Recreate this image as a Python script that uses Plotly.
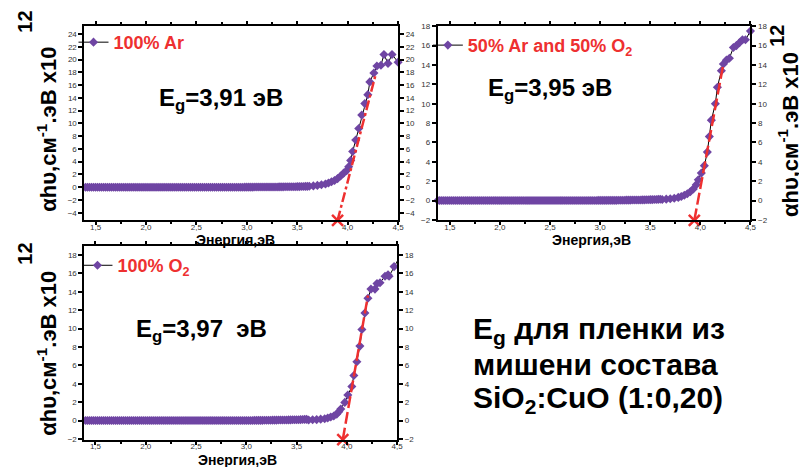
import plotly.graph_objects as go

W, H = 807, 467

# ---------------- data ----------------
energy_tail = [1.38, 1.40, 1.42, 1.44, 1.46, 1.48, 1.50, 1.52, 1.54, 1.56,
               1.58, 1.60, 1.62, 1.64, 1.66, 1.68, 1.70, 1.72, 1.74, 1.76,
               1.78, 1.80, 1.82, 1.84, 1.86, 1.88, 1.90, 1.92, 1.94, 1.96,
               1.98, 2.00, 2.02, 2.04, 2.06, 2.08, 2.10, 2.12, 2.14, 2.16,
               2.18, 2.20, 2.22, 2.24, 2.26, 2.28, 2.30, 2.32, 2.34, 2.36,
               2.38, 2.40, 2.42, 2.44, 2.46, 2.48, 2.50, 2.52, 2.54, 2.56,
               2.58, 2.60, 2.62, 2.64, 2.66, 2.68, 2.70, 2.72, 2.74, 2.76,
               2.78, 2.80, 2.82, 2.84, 2.86, 2.88, 2.90, 2.92, 2.94, 2.96,
               2.98, 3.00, 3.02, 3.04, 3.06, 3.08, 3.10, 3.12, 3.14, 3.16,
               3.18, 3.20, 3.22, 3.24, 3.26, 3.28, 3.30, 3.32, 3.34, 3.36,
               3.38, 3.40, 3.42, 3.44, 3.46, 3.48, 3.50, 3.52, 3.54, 3.56,
               3.58, 3.60]
alpha_tail = [0.00, 0.00, 0.00, 0.00, 0.00, 0.00, 0.00, 0.00, 0.00, 0.00,
              0.00, 0.00, 0.00, 0.00, 0.00, 0.00, 0.00, 0.00, 0.00, 0.00,
              0.00, 0.00, 0.00, 0.00, 0.00, 0.00, 0.00, 0.00, 0.00, 0.00,
              0.00, 0.00, 0.00, 0.00, 0.00, 0.00, 0.00, 0.00, 0.00, 0.00,
              0.00, 0.00, 0.00, 0.00, 0.00, 0.00, 0.00, 0.00, 0.00, 0.00,
              0.00, 0.00, 0.00, 0.00, 0.00, 0.00, 0.00, 0.00, 0.00, 0.00,
              0.00, 0.00, 0.00, 0.00, 0.00, 0.00, 0.00, 0.00, 0.00, 0.00,
              0.00, 0.00, 0.00, 0.00, 0.00, 0.00, 0.00, 0.00, 0.00, 0.00,
              0.01, 0.01, 0.01, 0.01, 0.01, 0.02, 0.02, 0.02, 0.02, 0.02,
              0.03, 0.03, 0.03, 0.03, 0.04, 0.04, 0.04, 0.05, 0.05, 0.05,
              0.06, 0.06, 0.07, 0.07, 0.08, 0.08, 0.09, 0.09, 0.10, 0.11,
              0.12, 0.13]

# 100% Ar
energy_ar = [3.62, 3.66, 3.70, 3.74, 3.78, 3.81, 3.84, 3.87, 3.90, 3.93,
             3.96, 3.99, 4.01, 4.03, 4.05, 4.08, 4.11, 4.14, 4.17, 4.20,
             4.22, 4.26, 4.29, 4.33, 4.36, 4.40, 4.44, 4.50]
alpha_ar = [0.15, 0.20, 0.28, 0.38, 0.50, 0.65, 0.85, 1.05, 1.35, 1.75,
            2.2, 2.6, 3.2, 4.2, 5.6, 7.4, 9.2, 11.3, 13.1, 14.5,
            16.5, 17.9, 19.0, 19.1, 20.8, 19.4, 20.8, 19.6]
fit_ar_x = [3.90, 4.28]
fit_ar_y = [-5.2, 17.8]

# 50% Ar and 50% O2
energy_mix = [3.62, 3.66, 3.70, 3.74, 3.78, 3.81, 3.84, 3.87, 3.90, 3.93,
              3.96, 3.98, 4.01, 4.04, 4.07, 4.09, 4.11, 4.15, 4.17, 4.21,
              4.23, 4.26, 4.29, 4.33, 4.36, 4.39, 4.42, 4.45, 4.50]
alpha_mix = [0.10, 0.14, 0.18, 0.24, 0.32, 0.42, 0.55, 0.70, 0.90, 1.2,
             1.64, 2.15, 2.83, 3.6, 5.0, 6.6, 8.3, 10.0, 11.7, 13.4,
             14.1, 14.5, 14.7, 15.8, 16.0, 16.3, 16.6, 16.6, 17.5]
fit_mix_x = [3.94, 4.23]
fit_mix_y = [-2.05, 14.1]

# 100% O2
energy_o2 = [3.62, 3.66, 3.70, 3.74, 3.78, 3.81, 3.84, 3.87, 3.90, 3.92,
             3.94, 3.98, 4.01, 4.05, 4.07, 4.10, 4.13, 4.15, 4.18, 4.21,
             4.24, 4.28, 4.30, 4.33, 4.38, 4.41, 4.42, 4.47, 4.51]
alpha_o2 = [0.05, 0.08, 0.10, 0.15, 0.20, 0.28, 0.38, 0.50, 0.70, 0.95,
            1.26, 1.97, 2.77, 3.7, 4.9, 6.4, 8.1, 9.9, 11.7, 13.3,
            14.3, 14.3, 14.9, 15.0, 15.7, 15.85, 15.7, 16.75, 17.5]
fit_o2_x = [3.96, 4.21]
fit_o2_y = [-2.07, 13.6]

x_tickvals = [1.5, 2.0, 2.5, 3.0, 3.5, 4.0, 4.5]
x_ticktext = ["1,5", "2,0", "2,5", "3,0", "3,5", "4,0", "4,5"]
x_minor = [1.75, 2.25, 2.75, 3.25, 3.75, 4.25]
y_ticks_ar = [-4, -2, 0, 2, 4, 6, 8, 10, 12, 14, 16, 18, 20, 22, 24]
y_ticks_o = [-2, 0, 2, 4, 6, 8, 10, 12, 14, 16, 18]

names = ["<b>100% Ar</b>", "<b>50% Ar and 50% O<sub>2</sub></b>", "<b>100% O<sub>2</sub></b>"]
eg_labels = ["<b>E<sub>g</sub>=3,91 эВ</b>", "<b>E<sub>g</sub>=3,95 эВ</b>", "<b>E<sub>g</sub>=3,97  эВ</b>"]
y_title = "<b>αhυ,см<sup>-1</sup>.эВ x10</b>"
y_title_exp = "<b>12</b>"
x_title = "<b>Энергия,эВ</b>"
note_lines = ["<b>E<sub>g</sub> для пленки из</b>", "<b>мишени состава</b>", "<b>SiO<sub>2</sub>:CuO (1:0,20)</b>"]

# ---------------- style ----------------
PURPLE = "#6f45a3"
RED = "#ee3030"
FONT = "Liberation Sans"


def px(x):
    return x / W


def py(y):
    return 1 - y / H


fig = go.Figure()

panels = [
    dict(ex=energy_tail + energy_ar, ay=alpha_tail + alpha_ar, fx=fit_ar_x, fy=fit_ar_y,
         dash="10px,3px,3px,3px", xa="x", ya="y", yr="y4", leg="legend"),
    dict(ex=energy_tail + energy_mix, ay=alpha_tail + alpha_mix, fx=fit_mix_x, fy=fit_mix_y,
         dash="12px,4px", xa="x2", ya="y2", yr="y5", leg="legend2"),
    dict(ex=energy_tail + energy_o2, ay=alpha_tail + alpha_o2, fx=fit_o2_x, fy=fit_o2_y,
         dash="12px,4px", xa="x3", ya="y3", yr="y6", leg="legend3"),
]

for i, p in enumerate(panels):
    fig.add_trace(go.Scatter(
        x=p["ex"], y=p["ay"], mode="lines+markers", name=names[i],
        line=dict(color="black", width=1),
        marker=dict(symbol="diamond", size=7, color=PURPLE),
        xaxis=p["xa"], yaxis=p["ya"], legend=p["leg"], cliponaxis=False))
    fig.add_trace(go.Scatter(
        x=p["fx"], y=p["fy"], mode="lines", showlegend=False,
        line=dict(color=RED, width=2.5, dash=p["dash"]),
        xaxis=p["xa"], yaxis=p["yr"]))
    fig.add_trace(go.Scatter(
        x=[p["fx"][0]], y=[p["fy"][0]], mode="markers", showlegend=False,
        marker=dict(symbol="x-thin", size=11, color=RED, line=dict(color=RED, width=2.5)),
        xaxis=p["xa"], yaxis=p["yr"], cliponaxis=False))

tickfont = dict(family=FONT, size=8, color="#333333")


def xaxis(domain, anchor, rng):
    return dict(domain=domain, anchor=anchor, range=rng, tickmode="array",
                tickvals=x_tickvals, ticktext=x_ticktext, ticks="outside",
                ticklen=3, tickwidth=2, tickcolor="black", showline=True,
                linewidth=2, linecolor="black", mirror="ticks", showgrid=False,
                zeroline=False, tickfont=tickfont, ticklabelstandoff=-5,
                minor=dict(tickmode="array", tickvals=x_minor, ticks="outside",
                           ticklen=2, tickwidth=1.5, tickcolor="black"))


def yaxis(domain, anchor, rng, ticks, side="left", overlay=None):
    d = dict(anchor=anchor, range=rng, tickmode="array", tickvals=ticks,
             ticks="outside", ticklen=4, tickwidth=2, tickcolor="black",
             showline=True, linewidth=2, linecolor="black", showgrid=False,
             zeroline=False, tickfont=tickfont, side=side)
    if overlay:
        d["overlaying"] = overlay
    else:
        d["domain"] = domain
    return d


dom_top = [py(212), py(14)]
dom_bot = [py(435), py(238)]
rng_ar = [-5.2, 25.3]
rng_mix = [-2.05, 18.05]
rng_o2 = [-2.07, 19.0]

fig.update_layout(
    width=W, height=H, margin=dict(l=0, r=0, t=0, b=0),
    paper_bgcolor="white", plot_bgcolor="white",
    font=dict(family=FONT, color="black"),
    xaxis=xaxis([px(77), px(393)], "y", [1.39, 4.5]),
    xaxis2=xaxis([px(433), px(748)], "y2", [1.38, 4.5]),
    xaxis3=xaxis([px(77), px(392)], "y3", [1.39, 4.5]),
    yaxis=yaxis(dom_top, "x", rng_ar, y_ticks_ar),
    yaxis2=yaxis(dom_top, "x2", rng_mix, y_ticks_o),
    yaxis3=yaxis(dom_bot, "x3", rng_o2, y_ticks_o),
    yaxis4=yaxis(None, "x", rng_ar, y_ticks_ar, side="right", overlay="y"),
    yaxis5=yaxis(None, "x2", rng_mix, y_ticks_o, side="right", overlay="y2"),
    yaxis6=yaxis(None, "x3", rng_o2, y_ticks_o, side="right", overlay="y3"),
)

legfont = dict(family=FONT, size=18, color=RED)
for key, lx, ly in [("legend", 66, 31), ("legend2", 423, 34), ("legend3", 70, 258)]:
    fig.update_layout({key: dict(x=px(lx), y=py(ly), xanchor="left", yanchor="middle",
                                 bgcolor="rgba(0,0,0,0)", font=legfont,
                                 itemwidth=30, tracegroupgap=0)})

ann = []
# Eg labels
for txt, x, y in zip(eg_labels, [150, 482, 127], [89, 79, 324]):
    ann.append(dict(text=txt, x=px(x), y=py(y), xref="paper", yref="paper",
                    xanchor="left", yanchor="middle", showarrow=False,
                    font=dict(family=FONT, size=24, color="black")))
# y titles
for x, y in [(39, 119), (786, 125), (39, 347)]:
    ann.append(dict(text=y_title, x=px(x), y=py(y), xref="paper", yref="paper",
                    xanchor="center", yanchor="middle", textangle=-90, showarrow=False,
                    font=dict(family=FONT, size=22, color="black")))
for x, y in [(17, 10), (774, 24), (17, 246)]:
    ann.append(dict(text=y_title_exp, x=px(x), y=py(y), xref="paper", yref="paper",
                    xanchor="center", yanchor="middle", textangle=-90, showarrow=False,
                    font=dict(family=FONT, size=20, color="black")))
# x titles
for x, y in [(229, 232), (588, 232), (231, 456)]:
    ann.append(dict(text=x_title, x=px(x), y=py(y), xref="paper", yref="paper",
                    xanchor="center", yanchor="middle", showarrow=False,
                    font=dict(family=FONT, size=14, color="black")))
# note
for txt, y in zip(note_lines, [324, 359, 394]):
    ann.append(dict(text=txt, x=px(466), y=py(y), xref="paper", yref="paper",
                    xanchor="left", yanchor="middle", showarrow=False,
                    font=dict(family=FONT, size=30, color="black")))

fig.update_layout(annotations=ann)
fig.write_html("out.html")
